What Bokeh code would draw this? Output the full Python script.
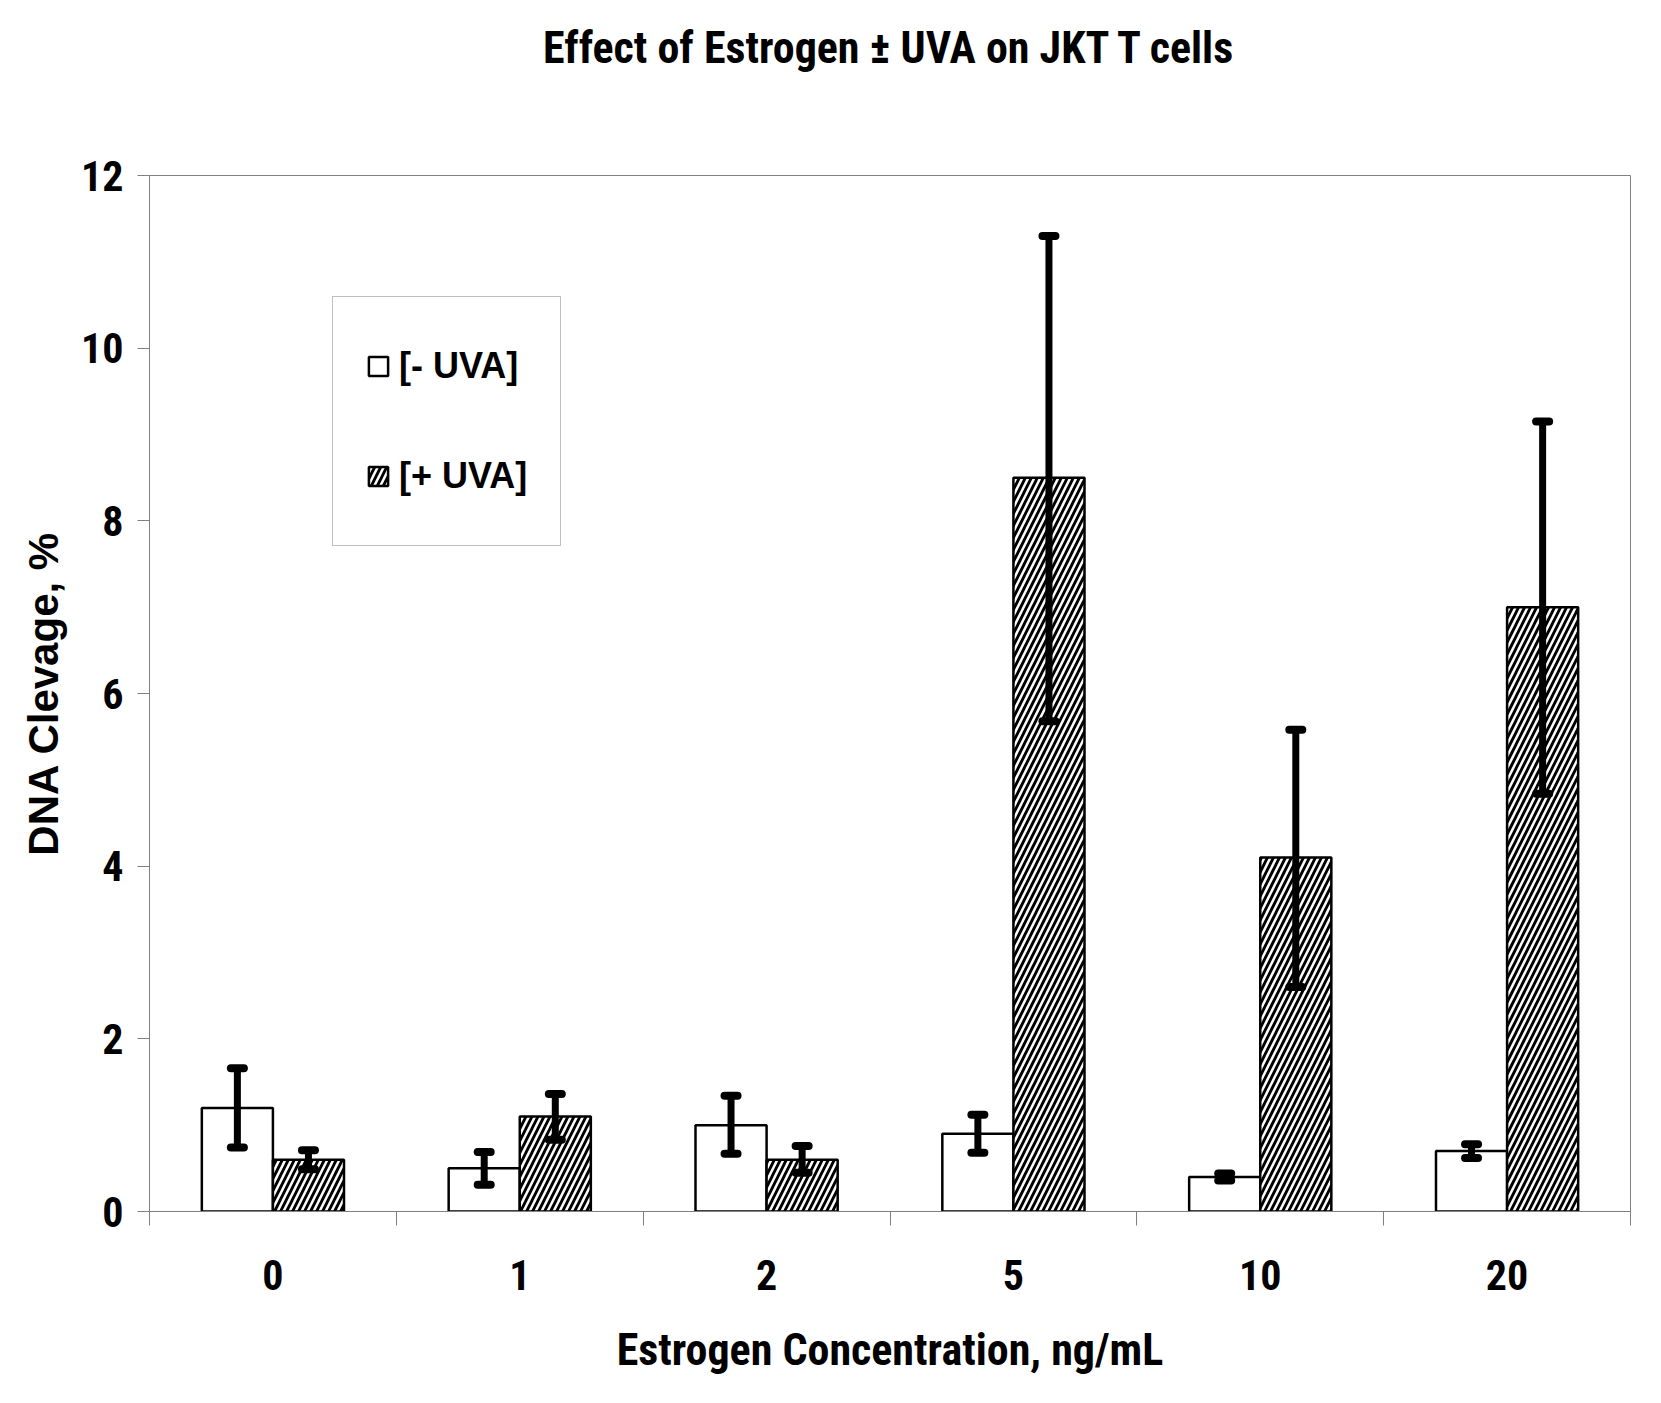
import numpy as np
from bokeh.plotting import figure
from bokeh.models import (ColumnDataSource, FixedTicker, Whisker, TeeHead, Legend, LegendItem,
                          Range1d, Title)
from bokeh.embed import file_html
from bokeh.resources import INLINE

categories = ["0", "1", "2", "5", "10", "20"]
minus_uva = [1.2, 0.5, 1.0, 0.9, 0.4, 0.7]
minus_lo = [0.74, 0.31, 0.67, 0.68, 0.36, 0.62]
minus_hi = [1.66, 0.69, 1.34, 1.12, 0.44, 0.78]
plus_uva = [0.6, 1.1, 0.6, 8.5, 4.1, 7.0]
plus_lo = [0.49, 0.83, 0.45, 5.68, 2.60, 4.84]
plus_hi = [0.71, 1.36, 0.76, 11.30, 5.58, 9.15]
y_ticks = [0, 2, 4, 6, 8, 10, 12]

NARROW = "Roboto Condensed"
SANS = "Liberation Sans"
GRAY = "#808080"
BAR_W = 0.288
OFF = 0.144

centers = np.arange(len(categories)) + 0.5

src_m = ColumnDataSource(dict(x=centers - OFF, top=minus_uva, lo=minus_lo, hi=minus_hi))
src_p = ColumnDataSource(dict(x=centers + OFF, top=plus_uva, lo=plus_lo, hi=plus_hi))

p = figure(width=1661, height=1403, output_backend="svg", toolbar_location=None,
           x_range=Range1d(0, len(categories)), y_range=Range1d(0, 12),
           min_border_left=149, min_border_right=31, min_border_top=173, min_border_bottom=192)

p.title.text = "Effect of Estrogen \u00b1 UVA on JKT T cells"
p.title.align = "center"
p.title.vertical_align = "top"
p.title.text_font = NARROW
p.title.text_font_size = "44px"
p.title.text_font_style = "bold"
p.title.text_color = "black"
p.title.standoff = 42

# empty spacer between the title and the plot frame
spacer = Title(text=" ", text_font_size="20px", standoff=55)
p.add_layout(spacer, "above")

p.xgrid.visible = False
p.ygrid.visible = False
p.outline_line_color = GRAY
p.outline_line_width = 1

r_m = p.vbar(x="x", top="top", width=BAR_W, source=src_m, fill_color="white",
             line_color="black", line_width=2.5)
r_p = p.vbar(x="x", top="top", width=BAR_W, source=src_p, fill_color="white",
             line_color="black", line_width=2.5, hatch_pattern="/", hatch_color="black",
             hatch_scale=12, hatch_weight=2.8)

for s in (src_m, src_p):
    w = Whisker(base="x", upper="hi", lower="lo", source=s, dimension="height",
                line_color="black", line_width=7, level="annotation",
                upper_head=TeeHead(size=13, line_width=8, line_color="black", line_cap="round"),
                lower_head=TeeHead(size=13, line_width=8, line_color="black", line_cap="round"))
    p.add_layout(w)

# X axis
xa = p.xaxis[0]
xa.ticker = FixedTicker(ticks=list(centers), minor_ticks=list(range(len(categories) + 1)))
xa.major_label_overrides = {float(c): lab for c, lab in zip(centers, categories)}
xa.major_tick_out = 0
xa.major_tick_in = 0
xa.minor_tick_out = 14
xa.minor_tick_in = 0
xa.minor_tick_line_color = GRAY
xa.axis_line_color = GRAY
xa.major_label_standoff = 34
xa.major_label_text_font = NARROW
xa.major_label_text_font_size = "42px"
xa.major_label_text_font_style = "bold"
xa.major_label_text_color = "black"
xa.axis_label = "Estrogen Concentration, ng/mL"
xa.axis_label_text_font = NARROW
xa.axis_label_text_font_size = "44px"
xa.axis_label_text_font_style = "bold"
xa.axis_label_text_color = "black"
xa.axis_label_standoff = 31

# Y axis
ya = p.yaxis[0]
ya.ticker = FixedTicker(ticks=y_ticks, minor_ticks=[])
ya.major_tick_out = 12
ya.major_tick_in = 0
ya.major_tick_line_color = GRAY
ya.axis_line_color = GRAY
ya.major_label_standoff = 14
ya.major_label_text_font = NARROW
ya.major_label_text_font_size = "42px"
ya.major_label_text_font_style = "bold"
ya.major_label_text_color = "black"
ya.axis_label = "DNA Clevage, %"
ya.axis_label_text_font = SANS
ya.axis_label_text_font_size = "42px"
ya.axis_label_text_font_style = "bold"
ya.axis_label_text_color = "black"
ya.axis_label_standoff = 11

legend = Legend(items=[LegendItem(label="[- UVA]", renderers=[r_m]),
                       LegendItem(label="[+ UVA]", renderers=[r_p])],
                location=(183, 665), orientation="vertical",
                border_line_color=GRAY, border_line_width=1,
                background_fill_color="white", background_fill_alpha=1,
                glyph_width=24, glyph_height=24, label_standoff=9,
                label_height=72, padding=33, spacing=38, margin=0,
                label_text_font=SANS, label_text_font_size="36px",
                label_text_font_style="bold", label_text_color="black")
p.add_layout(legend)

open("out.html", "w").write(file_html(p, INLINE))
